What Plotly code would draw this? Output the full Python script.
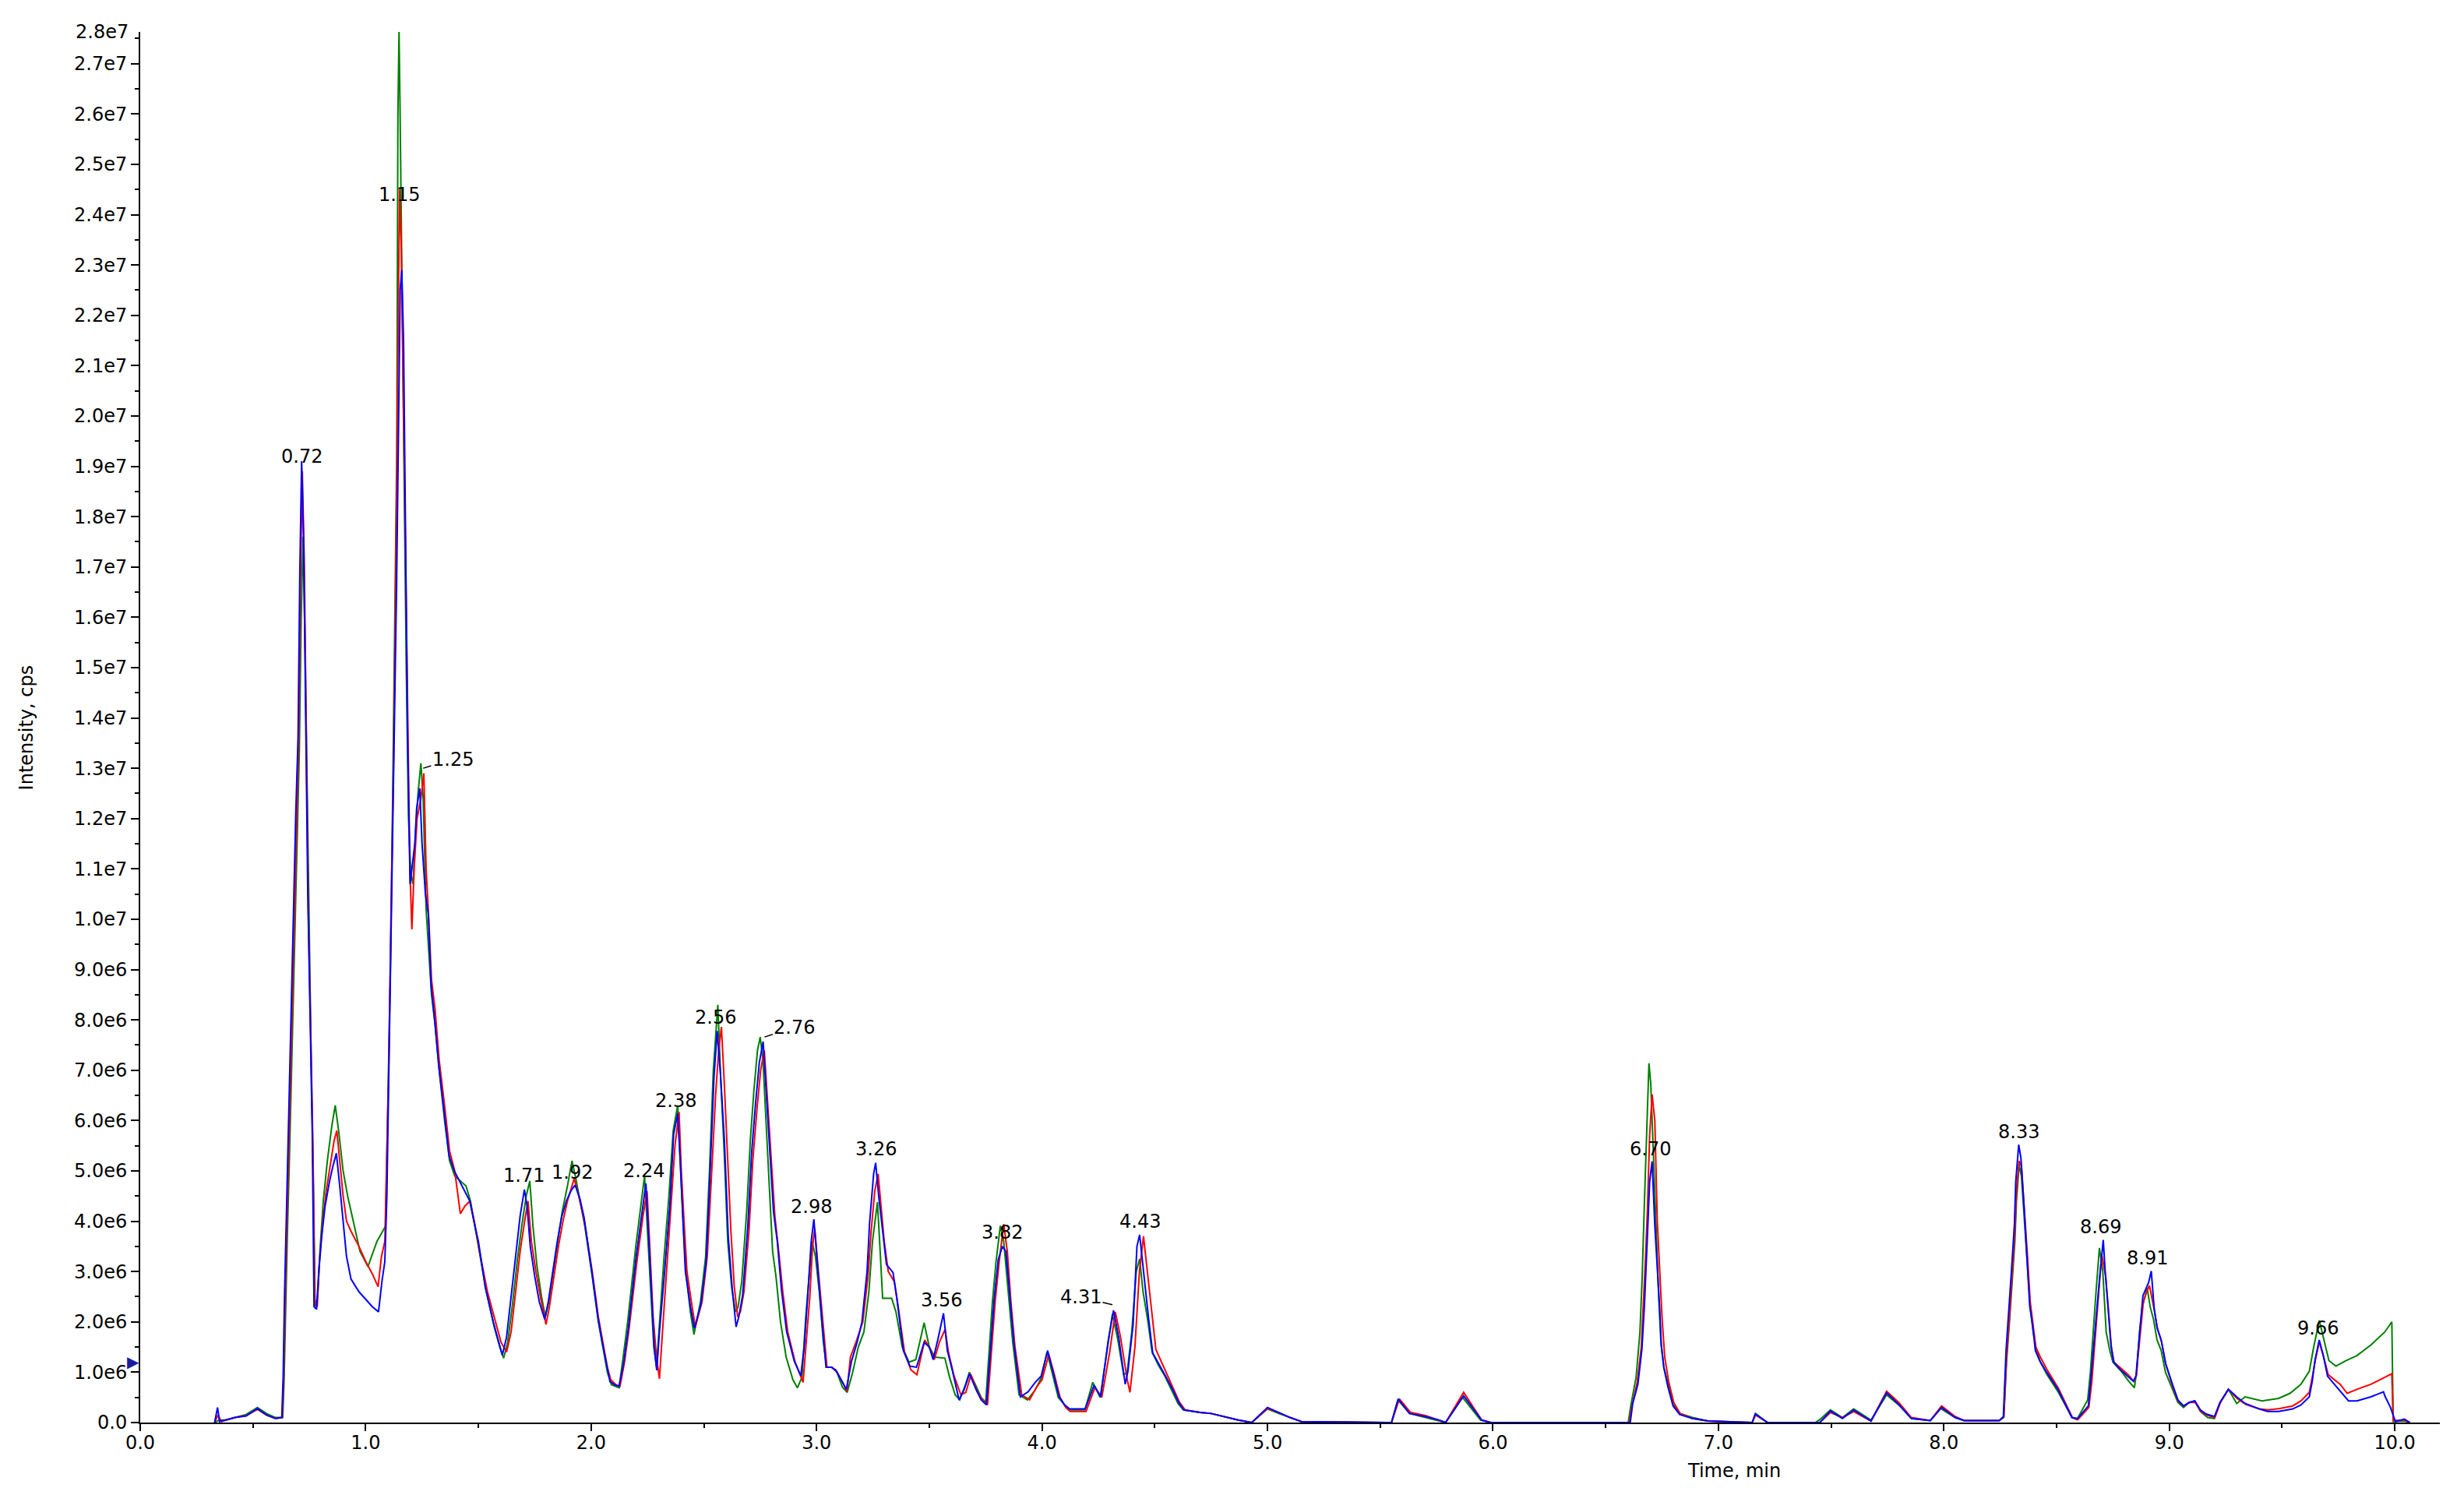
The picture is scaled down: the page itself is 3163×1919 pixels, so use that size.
import plotly.graph_objects as go

# Chromatogram (XIC overlay), intensities in units of 1e6 cps
# Each trace: list of (time_min, intensity_e6) vertices

blue_pts = [
    (0.330, 0.0), (0.343, 0.30), (0.352, 0.02), (0.38, 0.05), (0.42, 0.10), (0.47, 0.13),
    (0.52, 0.28), (0.56, 0.15), (0.60, 0.08), (0.628, 0.10), (0.634, 0.90), (0.640, 2.5),
    (0.648, 4.1), (0.657, 5.6), (0.666, 7.3), (0.674, 8.9), (0.682, 10.5), (0.690, 12.1),
    (0.700, 13.6), (0.708, 16.9), (0.716, 19.1), (0.725, 17.5), (0.734, 14.0), (0.743, 10.6),
    (0.753, 8.2), (0.763, 5.8), (0.771, 2.3), (0.782, 2.25), (0.792, 3.0), (0.805, 3.7),
    (0.82, 4.3), (0.84, 4.8), (0.855, 5.1), (0.87, 5.35), (0.885, 4.7), (0.90, 4.0),
    (0.915, 3.3), (0.935, 2.85), (0.97, 2.6), (1.00, 2.45), (1.03, 2.3), (1.057, 2.2),
    (1.072, 2.8), (1.085, 3.2), (1.094, 4.5), (1.105, 7.6), (1.116, 10.6), (1.128, 13.6),
    (1.137, 16.6), (1.145, 19.5), (1.153, 22.5), (1.160, 22.9), (1.168, 21.5), (1.176, 18.0),
    (1.186, 13.6), (1.197, 10.7), (1.209, 11.2), (1.218, 11.5), (1.226, 12.2), (1.240, 12.6),
    (1.250, 11.5), (1.265, 10.5), (1.278, 10.1), (1.290, 8.7), (1.306, 8.0), (1.324, 7.1),
    (1.347, 6.2), (1.370, 5.3), (1.393, 5.0), (1.416, 4.8), (1.440, 4.6), (1.462, 4.4),
    (1.480, 4.0), (1.500, 3.6), (1.530, 2.7), (1.566, 2.0), (1.590, 1.6), (1.606, 1.34),
    (1.625, 1.7), (1.645, 2.5), (1.665, 3.3), (1.685, 4.1), (1.704, 4.63), (1.716, 4.3),
    (1.730, 3.5), (1.750, 2.9), (1.770, 2.4), (1.794, 2.05), (1.810, 2.4), (1.830, 3.0),
    (1.850, 3.6), (1.870, 4.1), (1.890, 4.4), (1.910, 4.6), (1.929, 4.72), (1.950, 4.45),
    (1.969, 4.07), (2.003, 3.0), (2.030, 2.1), (2.050, 1.58), (2.070, 1.1), (2.084, 0.81),
    (2.105, 0.75), (2.124, 0.72), (2.145, 1.2), (2.165, 1.87), (2.200, 3.3), (2.228, 4.19),
    (2.243, 4.75), (2.255, 3.7), (2.270, 2.3), (2.280, 1.5), (2.291, 1.04), (2.303, 1.8),
    (2.326, 3.0), (2.349, 4.3), (2.366, 5.73), (2.384, 6.14), (2.395, 5.2), (2.406, 4.19),
    (2.418, 3.0), (2.441, 2.29), (2.458, 1.87), (2.487, 2.35), (2.510, 3.18), (2.527, 4.9),
    (2.545, 6.86), (2.559, 7.78), (2.574, 6.9), (2.591, 5.61), (2.608, 3.71), (2.626, 2.65),
    (2.643, 1.9), (2.655, 2.1), (2.672, 2.53), (2.695, 3.89), (2.712, 5.37), (2.729, 6.32),
    (2.746, 7.15), (2.763, 7.57), (2.775, 6.68), (2.792, 5.49), (2.809, 4.19), (2.826, 3.59),
    (2.844, 2.65), (2.867, 1.81), (2.901, 1.22), (2.930, 0.93), (2.945, 1.5), (2.959, 2.4),
    (2.976, 3.59), (2.988, 4.04), (3.005, 3.0), (3.022, 2.11), (3.042, 1.1), (3.065, 1.1),
    (3.086, 1.04), (3.110, 0.85), (3.132, 0.66), (3.155, 1.22), (3.180, 1.6), (3.201, 1.99),
    (3.224, 3.0), (3.235, 3.96), (3.253, 4.94), (3.262, 5.16), (3.276, 4.48), (3.293, 3.81),
    (3.310, 3.14), (3.339, 2.98), (3.356, 2.47), (3.385, 1.43), (3.414, 1.12), (3.443, 1.1),
    (3.477, 1.59), (3.500, 1.5), (3.517, 1.25), (3.540, 1.69), (3.563, 2.17), (3.580, 1.43),
    (3.603, 1.02), (3.632, 0.45), (3.655, 0.66), (3.678, 0.97), (3.707, 0.66), (3.730, 0.45),
    (3.753, 0.35), (3.771, 1.43), (3.788, 2.47), (3.806, 3.24), (3.824, 3.5), (3.840, 3.4),
    (3.858, 2.47), (3.875, 1.59), (3.904, 0.51), (3.938, 0.61), (3.970, 0.8), (3.996, 0.92),
    (4.025, 1.43), (4.047, 1.02), (4.076, 0.51), (4.100, 0.35), (4.122, 0.27), (4.191, 0.27),
    (4.231, 0.74), (4.260, 0.51), (4.294, 1.64), (4.317, 2.23), (4.340, 1.69), (4.369, 0.76),
    (4.381, 1.02), (4.404, 1.95), (4.421, 3.5), (4.433, 3.73), (4.450, 2.98), (4.473, 2.05),
    (4.491, 1.38), (4.520, 1.15), (4.548, 0.92), (4.580, 0.65), (4.606, 0.40), (4.629, 0.25),
    (4.700, 0.20), (4.750, 0.18), (4.820, 0.10), (4.870, 0.05), (4.930, 0.0), (5.000, 0.30),
    (5.050, 0.20), (5.100, 0.10), (5.150, 0.02), (5.550, 0.0), (5.580, 0.47), (5.630, 0.18),
    (5.700, 0.12), (5.760, 0.05), (5.790, 0.0), (5.870, 0.53), (5.950, 0.05), (5.990, 0.0),
    (6.609, 0.0), (6.620, 0.38), (6.643, 0.76), (6.661, 1.47), (6.672, 2.34), (6.680, 3.1),
    (6.687, 3.91), (6.695, 4.78), (6.706, 5.19), (6.718, 3.91), (6.729, 3.15), (6.739, 2.31),
    (6.747, 1.52), (6.758, 1.09), (6.776, 0.71), (6.799, 0.33), (6.828, 0.16), (6.885, 0.08),
    (6.954, 0.03), (7.150, 0.0), (7.163, 0.17), (7.218, 0.0), (7.450, 0.0), (7.497, 0.23),
    (7.550, 0.08), (7.600, 0.25), (7.677, 0.03), (7.746, 0.59), (7.800, 0.36), (7.856, 0.08),
    (7.940, 0.04), (7.990, 0.30), (8.050, 0.10), (8.090, 0.04), (8.246, 0.04), (8.264, 0.12),
    (8.276, 1.43), (8.289, 2.23), (8.301, 3.09), (8.313, 3.94), (8.319, 4.79), (8.332, 5.52),
    (8.342, 5.25), (8.356, 4.27), (8.369, 3.29), (8.381, 2.31), (8.394, 1.92), (8.406, 1.43),
    (8.425, 1.23), (8.456, 1.0), (8.506, 0.66), (8.543, 0.33), (8.568, 0.10), (8.593, 0.08),
    (8.616, 0.20), (8.641, 0.33), (8.653, 0.92), (8.666, 1.59), (8.678, 2.31), (8.691, 2.88),
    (8.707, 3.63), (8.716, 2.98), (8.728, 2.31), (8.741, 1.54), (8.753, 1.2), (8.790, 1.02),
    (8.815, 0.92), (8.840, 0.82), (8.852, 0.92), (8.858, 1.23), (8.871, 1.95), (8.883, 2.52),
    (8.908, 2.78), (8.920, 3.01), (8.933, 2.26), (8.945, 1.9), (8.964, 1.64), (8.983, 1.18),
    (9.014, 0.76), (9.038, 0.45), (9.063, 0.33), (9.088, 0.40), (9.113, 0.43), (9.138, 0.25),
    (9.163, 0.17), (9.200, 0.12), (9.225, 0.40), (9.262, 0.66), (9.299, 0.51), (9.336, 0.38),
    (9.399, 0.27), (9.436, 0.22), (9.485, 0.22), (9.547, 0.27), (9.584, 0.35), (9.621, 0.51),
    (9.634, 0.82), (9.646, 1.23), (9.665, 1.64), (9.683, 1.33), (9.702, 0.92), (9.733, 0.76),
    (9.770, 0.56), (9.795, 0.43), (9.832, 0.43), (9.894, 0.51), (9.950, 0.61), (9.956, 0.53),
    (9.981, 0.30), (10.003, 0.02), (10.043, 0.07), (10.067, 0.0),
]

red_pts = [
    (0.330, 0.0), (0.345, 0.15), (0.360, 0.02), (0.38, 0.05), (0.42, 0.10), (0.47, 0.14),
    (0.52, 0.26), (0.56, 0.15), (0.60, 0.08), (0.630, 0.10), (0.636, 0.90), (0.643, 2.5),
    (0.651, 4.0), (0.660, 5.6), (0.669, 7.2), (0.677, 8.8), (0.685, 10.4), (0.693, 12.0),
    (0.703, 13.6), (0.711, 16.8), (0.719, 18.9), (0.728, 17.0), (0.737, 13.5), (0.746, 10.0),
    (0.756, 7.8), (0.766, 5.5), (0.774, 2.4), (0.785, 2.3), (0.795, 3.2), (0.810, 4.0),
    (0.825, 4.6), (0.845, 5.2), (0.860, 5.6), (0.872, 5.8), (0.885, 5.2), (0.900, 4.5),
    (0.915, 4.0), (0.935, 3.8), (0.970, 3.5), (1.000, 3.2), (1.030, 2.95), (1.055, 2.7),
    (1.070, 3.3), (1.085, 3.6), (1.092, 5.0), (1.102, 7.0), (1.112, 10.0), (1.124, 13.2),
    (1.134, 17.0), (1.142, 20.3), (1.150, 24.5), (1.158, 23.3), (1.166, 20.6), (1.176, 17.0),
    (1.186, 14.0), (1.196, 11.0), (1.205, 9.8), (1.215, 11.0), (1.228, 12.0), (1.245, 12.4),
    (1.258, 12.9), (1.268, 11.0), (1.280, 10.0), (1.292, 8.8), (1.308, 8.2), (1.326, 7.2),
    (1.350, 6.3), (1.372, 5.4), (1.395, 5.0), (1.420, 4.15), (1.440, 4.3), (1.462, 4.4),
    (1.482, 4.0), (1.505, 3.4), (1.540, 2.6), (1.575, 2.0), (1.600, 1.6), (1.625, 1.4),
    (1.645, 1.8), (1.665, 2.6), (1.685, 3.4), (1.705, 4.0), (1.720, 4.4), (1.735, 3.6),
    (1.755, 3.0), (1.775, 2.5), (1.800, 1.95), (1.815, 2.3), (1.835, 2.9), (1.855, 3.5),
    (1.875, 4.0), (1.895, 4.4), (1.915, 4.7), (1.925, 4.85), (1.945, 4.5), (1.970, 4.0),
    (2.005, 3.0), (2.032, 2.1), (2.052, 1.6), (2.072, 1.1), (2.087, 0.85), (2.110, 0.75),
    (2.128, 0.72), (2.148, 1.2), (2.168, 1.85), (2.203, 3.2), (2.230, 4.1), (2.248, 4.6),
    (2.260, 3.5), (2.275, 2.1), (2.290, 1.3), (2.303, 0.87), (2.315, 1.7), (2.335, 3.0),
    (2.355, 4.3), (2.372, 5.5), (2.390, 6.17), (2.400, 5.0), (2.412, 4.0), (2.425, 3.0),
    (2.448, 2.3), (2.462, 1.9), (2.492, 2.4), (2.515, 3.3), (2.535, 5.0), (2.552, 6.5),
    (2.566, 7.4), (2.578, 7.86), (2.590, 6.8), (2.605, 5.2), (2.620, 3.8), (2.635, 2.7),
    (2.650, 2.1), (2.662, 2.2), (2.678, 2.6), (2.700, 3.8), (2.717, 5.2), (2.735, 6.2),
    (2.752, 7.0), (2.768, 7.4), (2.780, 6.6), (2.797, 5.4), (2.815, 4.1), (2.832, 3.4),
    (2.850, 2.6), (2.872, 1.8), (2.905, 1.2), (2.940, 0.8), (2.955, 1.6), (2.970, 2.5),
    (2.982, 3.5), (2.992, 3.85), (3.010, 2.9), (3.027, 2.0), (3.046, 1.1), (3.068, 1.1),
    (3.090, 1.0), (3.115, 0.8), (3.135, 0.62), (3.150, 1.3), (3.175, 1.6), (3.205, 2.0),
    (3.228, 2.9), (3.242, 3.8), (3.258, 4.6), (3.273, 4.94), (3.285, 4.3), (3.300, 3.6),
    (3.318, 3.0), (3.345, 2.8), (3.362, 2.3), (3.390, 1.4), (3.418, 1.05), (3.445, 0.95),
    (3.480, 1.64), (3.505, 1.45), (3.522, 1.25), (3.545, 1.6), (3.570, 1.85), (3.585, 1.4),
    (3.608, 0.95), (3.640, 0.55), (3.662, 0.6), (3.685, 0.95), (3.712, 0.62), (3.735, 0.45),
    (3.758, 0.35), (3.775, 1.4), (3.792, 2.4), (3.810, 3.2), (3.830, 3.94), (3.846, 3.4),
    (3.862, 2.4), (3.880, 1.5), (3.910, 0.55), (3.945, 0.45), (3.975, 0.7), (4.000, 0.85),
    (4.030, 1.35), (4.052, 1.0), (4.080, 0.5), (4.105, 0.3), (4.125, 0.22), (4.195, 0.22),
    (4.235, 0.7), (4.265, 0.5), (4.300, 1.4), (4.325, 2.2), (4.348, 1.7), (4.378, 0.85),
    (4.390, 0.6), (4.412, 1.5), (4.432, 3.0), (4.450, 3.7), (4.465, 3.1), (4.488, 2.1),
    (4.505, 1.45), (4.530, 1.2), (4.555, 0.95), (4.585, 0.65), (4.610, 0.40), (4.635, 0.25),
    (4.700, 0.20), (4.750, 0.18), (4.820, 0.10), (4.870, 0.05), (4.930, 0.0), (5.000, 0.28),
    (5.050, 0.20), (5.100, 0.10), (5.150, 0.02), (5.550, 0.0), (5.585, 0.47), (5.635, 0.20),
    (5.700, 0.14), (5.760, 0.05), (5.790, 0.0), (5.870, 0.6), (5.950, 0.05), (5.990, 0.0),
    (6.605, 0.0), (6.615, 0.3), (6.640, 0.8), (6.658, 1.5), (6.668, 2.4), (6.677, 3.3),
    (6.685, 4.2), (6.695, 5.7), (6.706, 6.52), (6.718, 6.0), (6.729, 4.0), (6.740, 3.07),
    (6.750, 2.09), (6.762, 1.3), (6.780, 0.8), (6.802, 0.40), (6.830, 0.18), (6.885, 0.08),
    (6.954, 0.03), (7.150, 0.0), (7.165, 0.15), (7.218, 0.0), (7.450, 0.0), (7.497, 0.20),
    (7.550, 0.10), (7.600, 0.22), (7.677, 0.03), (7.746, 0.62), (7.800, 0.40), (7.856, 0.10),
    (7.940, 0.04), (7.990, 0.33), (8.050, 0.12), (8.090, 0.04), (8.246, 0.04), (8.266, 0.12),
    (8.278, 1.3), (8.291, 2.1), (8.303, 3.0), (8.315, 3.8), (8.322, 4.6), (8.334, 5.2),
    (8.344, 5.1), (8.358, 4.2), (8.371, 3.3), (8.383, 2.4), (8.396, 1.95), (8.408, 1.5),
    (8.428, 1.3), (8.458, 1.05), (8.508, 0.68), (8.545, 0.33), (8.570, 0.10), (8.595, 0.06),
    (8.618, 0.18), (8.643, 0.30), (8.656, 0.80), (8.668, 1.5), (8.680, 2.2), (8.693, 2.9),
    (8.700, 3.34), (8.718, 2.9), (8.730, 2.2), (8.743, 1.5), (8.755, 1.2), (8.792, 1.05),
    (8.818, 0.95), (8.842, 0.82), (8.855, 0.95), (8.860, 1.25), (8.873, 1.9), (8.885, 2.4),
    (8.900, 2.6), (8.912, 2.72), (8.935, 2.2), (8.948, 1.85), (8.966, 1.6), (8.985, 1.15),
    (9.016, 0.70), (9.040, 0.42), (9.065, 0.33), (9.090, 0.40), (9.115, 0.40), (9.140, 0.22),
    (9.165, 0.15), (9.202, 0.10), (9.227, 0.40), (9.262, 0.66), (9.300, 0.48), (9.340, 0.36),
    (9.400, 0.27), (9.440, 0.25), (9.490, 0.28), (9.547, 0.33), (9.584, 0.43), (9.621, 0.60),
    (9.634, 0.90), (9.648, 1.25), (9.665, 1.60), (9.685, 1.30), (9.705, 0.95), (9.733, 0.85),
    (9.758, 0.76), (9.789, 0.58), (9.832, 0.66), (9.894, 0.76), (9.950, 0.88), (9.987, 0.97),
    (9.993, 0.04), (10.043, 0.05), (10.067, 0.0),
]

green_pts = [
    (0.330, 0.0), (0.350, 0.05), (0.38, 0.05), (0.42, 0.10), (0.47, 0.16), (0.52, 0.30),
    (0.56, 0.18), (0.60, 0.10), (0.632, 0.10), (0.638, 0.80), (0.645, 2.3), (0.653, 3.8),
    (0.662, 5.3), (0.671, 7.0), (0.679, 8.6), (0.688, 10.2), (0.696, 11.8), (0.706, 13.4),
    (0.714, 16.0), (0.722, 17.6), (0.731, 15.5), (0.740, 12.5), (0.749, 9.5), (0.759, 7.0),
    (0.769, 4.5), (0.776, 2.3), (0.787, 2.5), (0.797, 3.4), (0.812, 4.4), (0.830, 5.2),
    (0.850, 5.9), (0.865, 6.3), (0.880, 5.8), (0.900, 5.0), (0.920, 4.5), (0.945, 4.0),
    (0.975, 3.4), (1.010, 3.1), (1.050, 3.6), (1.088, 3.9), (1.095, 5.5), (1.100, 7.0),
    (1.110, 9.1), (1.120, 12.5), (1.130, 16.5), (1.138, 19.3), (1.143, 26.0), (1.148, 27.65),
    (1.152, 26.3), (1.160, 23.4), (1.170, 19.0), (1.180, 15.0), (1.190, 12.0), (1.200, 10.9),
    (1.210, 10.7), (1.220, 11.6), (1.232, 12.5), (1.245, 13.1), (1.255, 12.4), (1.268, 10.2),
    (1.280, 9.4), (1.292, 8.5), (1.308, 7.9), (1.326, 7.0), (1.350, 6.0), (1.372, 5.2),
    (1.395, 4.9), (1.420, 4.8), (1.445, 4.7), (1.465, 4.4), (1.485, 3.9), (1.505, 3.4),
    (1.535, 2.6), (1.570, 1.9), (1.595, 1.5), (1.612, 1.28), (1.630, 1.6), (1.650, 2.3),
    (1.672, 3.2), (1.692, 3.9), (1.712, 4.5), (1.728, 4.8), (1.742, 3.9), (1.760, 3.1),
    (1.780, 2.5), (1.797, 2.1), (1.812, 2.4), (1.832, 3.0), (1.852, 3.6), (1.872, 4.2),
    (1.895, 4.7), (1.915, 5.2), (1.930, 4.9), (1.950, 4.4), (1.972, 3.9), (2.005, 2.9),
    (2.032, 2.0), (2.052, 1.5), (2.072, 1.0), (2.090, 0.75), (2.110, 0.72), (2.124, 0.69),
    (2.142, 1.3), (2.162, 2.0), (2.198, 3.5), (2.222, 4.4), (2.237, 4.9), (2.250, 3.8),
    (2.265, 2.5), (2.278, 1.5), (2.290, 1.1), (2.300, 1.8), (2.322, 3.2), (2.345, 4.5),
    (2.364, 5.8), (2.384, 6.3), (2.396, 5.1), (2.408, 4.0), (2.420, 3.0), (2.440, 2.2),
    (2.456, 1.75), (2.485, 2.4), (2.508, 3.3), (2.525, 5.0), (2.542, 7.0), (2.562, 8.3),
    (2.575, 6.8), (2.590, 5.4), (2.606, 3.6), (2.623, 2.7), (2.640, 2.2), (2.652, 2.3),
    (2.668, 2.8), (2.690, 4.2), (2.706, 5.6), (2.722, 6.6), (2.738, 7.4), (2.750, 7.66),
    (2.762, 7.2), (2.775, 6.0), (2.790, 4.6), (2.805, 3.4), (2.820, 2.9), (2.840, 2.0),
    (2.865, 1.3), (2.895, 0.85), (2.915, 0.69), (2.935, 0.9), (2.952, 2.1), (2.968, 3.0),
    (2.980, 3.6), (2.995, 3.3), (3.012, 2.6), (3.030, 1.6), (3.045, 1.1), (3.068, 1.1),
    (3.090, 1.0), (3.115, 0.7), (3.136, 0.60), (3.160, 1.0), (3.185, 1.5), (3.210, 1.8),
    (3.232, 2.6), (3.248, 3.6), (3.262, 4.1), (3.270, 4.38), (3.282, 3.4), (3.293, 2.47),
    (3.333, 2.47), (3.352, 2.2), (3.380, 1.5), (3.410, 1.2), (3.440, 1.25), (3.477, 1.98),
    (3.500, 1.5), (3.525, 1.3), (3.569, 1.28), (3.590, 0.9), (3.615, 0.55), (3.635, 0.45),
    (3.660, 0.75), (3.678, 1.0), (3.705, 0.75), (3.730, 0.5), (3.750, 0.40), (3.766, 1.4),
    (3.780, 2.4), (3.796, 3.2), (3.815, 3.91), (3.830, 3.6), (3.850, 2.6), (3.870, 1.6),
    (3.898, 0.55), (3.935, 0.45), (3.970, 0.65), (3.998, 0.9), (4.022, 1.40), (4.045, 1.0),
    (4.072, 0.5), (4.100, 0.35), (4.125, 0.25), (4.190, 0.25), (4.225, 0.8), (4.258, 0.5),
    (4.290, 1.5), (4.312, 2.15), (4.336, 1.65), (4.362, 0.95), (4.378, 1.0), (4.398, 1.8),
    (4.418, 3.0), (4.433, 3.25), (4.448, 2.6), (4.470, 2.0), (4.488, 1.4), (4.515, 1.15),
    (4.545, 0.92), (4.578, 0.62), (4.603, 0.38), (4.627, 0.25), (4.700, 0.20), (4.750, 0.18),
    (4.820, 0.10), (4.870, 0.05), (4.930, 0.0), (5.000, 0.27), (5.050, 0.18), (5.100, 0.10),
    (5.150, 0.02), (5.550, 0.0), (5.578, 0.45), (5.630, 0.18), (5.700, 0.10), (5.760, 0.04),
    (5.790, 0.0), (5.865, 0.50), (5.945, 0.05), (5.990, 0.0), (6.600, 0.0), (6.612, 0.35),
    (6.635, 0.9), (6.652, 1.8), (6.662, 2.9), (6.672, 4.4), (6.682, 5.8), (6.692, 7.14),
    (6.700, 6.74), (6.712, 5.2), (6.722, 4.0), (6.735, 2.5), (6.745, 1.6), (6.758, 1.1),
    (6.778, 0.75), (6.800, 0.35), (6.830, 0.18), (6.885, 0.10), (6.954, 0.03), (7.150, 0.0),
    (7.165, 0.18), (7.218, 0.0), (7.430, 0.0), (7.450, 0.06), (7.497, 0.25), (7.550, 0.10),
    (7.600, 0.27), (7.677, 0.05), (7.746, 0.55), (7.800, 0.35), (7.856, 0.08), (7.940, 0.04),
    (7.985, 0.28), (8.050, 0.10), (8.090, 0.04), (8.246, 0.04), (8.266, 0.10), (8.278, 1.2),
    (8.291, 2.0), (8.303, 2.8), (8.315, 3.6), (8.322, 4.4), (8.334, 5.12), (8.344, 4.9),
    (8.358, 4.0), (8.371, 3.0), (8.383, 2.3), (8.396, 1.8), (8.408, 1.5), (8.428, 1.2),
    (8.458, 0.95), (8.508, 0.60), (8.545, 0.30), (8.568, 0.10), (8.590, 0.06), (8.613, 0.25),
    (8.638, 0.45), (8.650, 1.0), (8.662, 1.8), (8.675, 2.6), (8.690, 3.47), (8.705, 3.0),
    (8.720, 1.8), (8.735, 1.45), (8.750, 1.2), (8.790, 1.0), (8.815, 0.85), (8.845, 0.69),
    (8.855, 1.0), (8.868, 1.8), (8.880, 2.3), (8.902, 2.67), (8.915, 2.3), (8.930, 2.05),
    (8.945, 1.65), (8.964, 1.43), (8.983, 1.0), (9.014, 0.65), (9.038, 0.40), (9.063, 0.30),
    (9.088, 0.40), (9.113, 0.43), (9.138, 0.22), (9.170, 0.10), (9.200, 0.08), (9.225, 0.40),
    (9.262, 0.66), (9.299, 0.38), (9.336, 0.51), (9.411, 0.43), (9.485, 0.48), (9.535, 0.58),
    (9.584, 0.76), (9.621, 1.02), (9.640, 1.49), (9.665, 2.03), (9.683, 1.69), (9.708, 1.23),
    (9.739, 1.12), (9.783, 1.23), (9.832, 1.33), (9.894, 1.54), (9.956, 1.80), (9.987, 2.0),
    (9.993, 0.02), (10.043, 0.03), (10.067, 0.0),
]

# Peak labels: text, label centre (min, e6 cps)
peak_labels = ['0.72', '1.15', '1.71', '1.92', '2.24', '2.38', '2.56', '2.98', '3.26',
               '3.56', '3.82', '4.43', '6.70', '8.33', '8.69', '8.91', '9.66']
peak_label_x = [0.716, 1.148, 1.703, 1.915, 2.234, 2.374, 2.552, 2.976, 3.264,
                3.555, 3.823, 4.434, 6.698, 8.332, 8.696, 8.904, 9.659]
peak_label_y = [19.2, 24.4, 4.9, 4.97, 5.0, 6.39, 8.05, 4.29, 5.43,
                2.43, 3.77, 4.0, 5.43, 5.78, 3.89, 3.27, 1.87]

# Labels with a leader line: text, peak apex (min, e6), label centre (min, e6)
leader_labels = ['1.25', '2.76', '4.31']
leader_tip_x = [1.255, 2.769, 4.312]
leader_tip_y = [13.0, 7.66, 2.34]
leader_text_x = [1.387, 2.902, 4.172]
leader_text_y = [13.18, 7.85, 2.49]

x_ticks = [0.0, 1.0, 2.0, 3.0, 4.0, 5.0, 6.0, 7.0, 8.0, 9.0, 10.0]
x_tick_text = ['0.0', '1.0', '2.0', '3.0', '4.0', '5.0', '6.0', '7.0', '8.0', '9.0', '10.0']
y_ticks = [i * 1e6 for i in range(28)]
y_tick_text = ['0.0', '1.0e6', '2.0e6', '3.0e6', '4.0e6', '5.0e6', '6.0e6', '7.0e6', '8.0e6',
               '9.0e6', '1.0e7', '1.1e7', '1.2e7', '1.3e7', '1.4e7', '1.5e7', '1.6e7',
               '1.7e7', '1.8e7', '1.9e7', '2.0e7', '2.1e7', '2.2e7', '2.3e7', '2.4e7',
               '2.5e7', '2.6e7', '2.7e7']
y_top = 2.763e7
marker_level = 1.2e6

font = 'DejaVu Sans'
fsize = 24

fig = go.Figure()

for pts, color in [(green_pts, '#008000'), (red_pts, '#FF0000'), (blue_pts, '#0000FF')]:
    fig.add_trace(go.Scatter(
        x=[p[0] for p in pts],
        y=[p[1] * 1e6 for p in pts],
        mode='lines',
        line=dict(color=color, width=2),
        showlegend=False,
        hoverinfo='skip',
    ))

annotations = []
for txt, lx, ly in zip(peak_labels, peak_label_x, peak_label_y):
    annotations.append(dict(x=lx, y=ly * 1e6, text=txt, showarrow=False,
                            xanchor='center', yanchor='middle',
                            font=dict(family=font, size=fsize, color='black')))

for txt, tx, ty, lx, ly in zip(leader_labels, leader_tip_x, leader_tip_y, leader_text_x, leader_text_y):
    annotations.append(dict(x=tx, y=ty * 1e6, ax=lx, ay=ly * 1e6, axref='x', ayref='y',
                            text=txt, showarrow=True, arrowhead=0, arrowwidth=1.5,
                            arrowcolor='black', standoff=0,
                            font=dict(family=font, size=fsize, color='black')))

annotations += [
    # threshold marker on the y axis
    dict(x=0, xref='paper', y=marker_level, yref='y', text='\u25B6', showarrow=False,
         xanchor='right', yanchor='middle', xshift=1,
         font=dict(family=font, size=20, color='#1a1aa0')),
    dict(x=0, xref='paper', y=y_top, yref='y', text='2.8e7', showarrow=False,
         xanchor='right', yanchor='middle', xshift=-13,
         font=dict(family=font, size=fsize, color='black')),
    dict(x=-0.0495, xref='paper', y=0.5, yref='paper', text='Intensity, cps', showarrow=False,
         textangle=-90, xanchor='center', yanchor='middle',
         font=dict(family=font, size=fsize, color='black')),
    dict(x=0.693, xref='paper', y=-0.0347, yref='paper', text='Time, min', showarrow=False,
         xanchor='center', yanchor='middle',
         font=dict(family=font, size=fsize, color='black')),
]

# page body has an 8 px margin: size the figure so that it fits the window
fig.update_layout({
    'width': 3147,
    'height': 1903,
    'margin': {'l': 172, 'r': 23, 't': 33, 'b': 85},
    'paper_bgcolor': 'white',
    'plot_bgcolor': 'white',
    'annotations': annotations,
    'xaxis': {
        'range': [0, 10.2], 'showgrid': False, 'zeroline': False,
        'showline': True, 'linecolor': 'black', 'linewidth': 2,
        'ticks': 'outside', 'ticklen': 9, 'tickwidth': 2, 'tickcolor': 'black',
        'tickmode': 'array', 'tickvals': x_ticks, 'ticktext': x_tick_text,
        'ticklabelstandoff': -6,
        'minor': {'ticks': 'outside', 'ticklen': 5, 'tickwidth': 2, 'tickcolor': 'black',
                  'dtick': 0.5, 'tick0': 0, 'showgrid': False},
        'tickfont': {'family': font, 'size': fsize, 'color': 'black'},
        'fixedrange': True,
    },
    'yaxis': {
        'range': [0, y_top], 'showgrid': False, 'zeroline': False,
        'showline': True, 'linecolor': 'black', 'linewidth': 2,
        'ticks': 'outside', 'ticklen': 10, 'tickwidth': 2, 'tickcolor': 'black',
        'tickmode': 'array', 'tickvals': y_ticks, 'ticktext': y_tick_text,
        'minor': {'ticks': 'outside', 'ticklen': 5, 'tickwidth': 2, 'tickcolor': 'black',
                  'dtick': 5e5, 'tick0': 0, 'showgrid': False},
        'tickfont': {'family': font, 'size': fsize, 'color': 'black'},
        'fixedrange': True,
    },
})

fig.write_html("out.html")
